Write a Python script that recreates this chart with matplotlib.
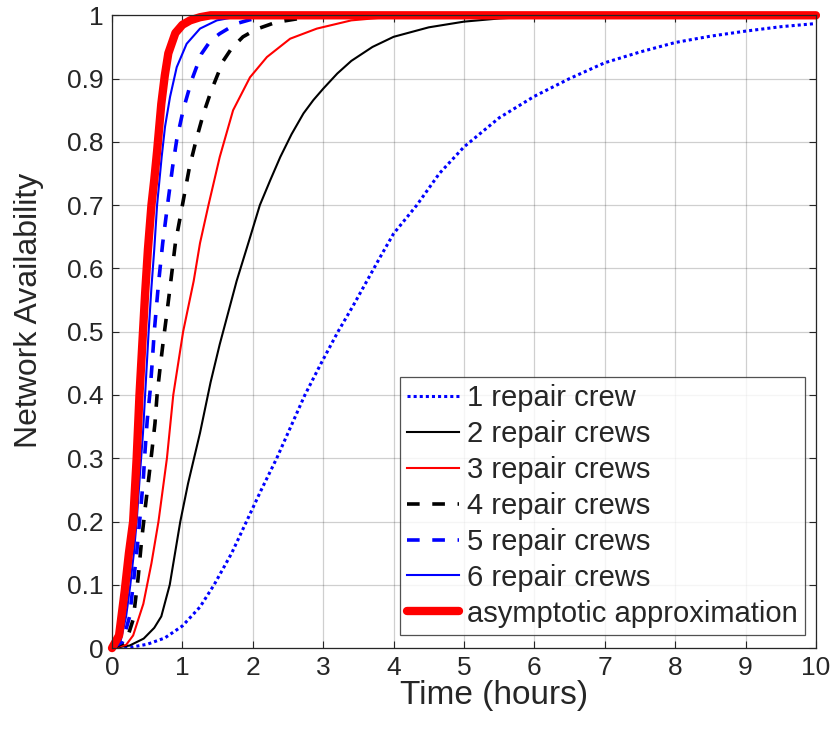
import matplotlib.pyplot as plt

plt.rcParams["font.family"] = ["Liberation Sans", "DejaVu Sans"]

TXT = "#262626"

# values (time in hours, availability)
t1 = [0, 0.3, 0.5, 0.75, 1.0, 1.25, 1.45, 1.7, 1.91, 2.12, 2.34, 2.54, 2.74,
      2.97, 3.21, 3.42, 3.62, 3.81, 4.0, 4.33, 4.65, 5.0, 5.5, 6.0, 6.5, 7.0,
      7.5, 8.0, 8.5, 9.0, 9.5, 10]
a1 = [0, 0.002, 0.006, 0.016, 0.035, 0.065, 0.1, 0.15, 0.2, 0.25, 0.3, 0.35,
      0.4, 0.45, 0.5, 0.54, 0.58, 0.618, 0.655, 0.7, 0.75, 0.792, 0.838, 0.872,
      0.9, 0.925, 0.942, 0.957, 0.967, 0.975, 0.982, 0.987]

t2 = [0, 0.25, 0.45, 0.6, 0.7, 0.82, 0.97, 1.08, 1.25, 1.4, 1.53, 1.65, 1.77,
      1.95, 2.1, 2.25, 2.39, 2.55, 2.72, 2.86, 3.0, 3.2, 3.4, 3.7, 4.0, 4.5,
      5.0, 5.5, 6.0, 7.0, 10]
a2 = [0, 0.004, 0.015, 0.032, 0.05, 0.1, 0.2, 0.26, 0.34, 0.42, 0.48, 0.53,
      0.58, 0.645, 0.7, 0.74, 0.776, 0.812, 0.845, 0.866, 0.884, 0.908, 0.928,
      0.95, 0.966, 0.981, 0.99, 0.995, 0.998, 1, 1]

t3 = [0, 0.2, 0.3, 0.445, 0.56, 0.66, 0.78, 0.87, 1.01, 1.16, 1.25, 1.37,
      1.53, 1.72, 1.96, 2.2, 2.53, 2.91, 3.4, 4.0, 5.0, 10]
a3 = [0, 0.005, 0.02, 0.07, 0.134, 0.2, 0.3, 0.4, 0.5, 0.58, 0.64, 0.7,
      0.776, 0.85, 0.902, 0.934, 0.963, 0.979, 0.992, 0.998, 1, 1]

t4 = [0, 0.2, 0.3, 0.37, 0.42, 0.47, 0.52, 0.565, 0.61, 0.64, 0.68, 0.73,
      0.78, 0.83, 0.9, 1.0, 1.1, 1.2, 1.3, 1.41, 1.5, 1.58, 1.7, 1.86, 2.05,
      2.33, 2.66, 3.0, 10]
a4 = [0, 0.01, 0.045, 0.11, 0.17, 0.22, 0.267, 0.31, 0.355, 0.4, 0.44, 0.487,
      0.53, 0.575, 0.64, 0.7, 0.76, 0.805, 0.845, 0.881, 0.906, 0.928, 0.948,
      0.966, 0.978, 0.989, 0.995, 1, 1]

t5 = [0, 0.15, 0.25, 0.3, 0.35, 0.4, 0.445, 0.47, 0.5, 0.54, 0.57, 0.6, 0.66,
      0.72, 0.8, 0.86, 0.919, 1.01, 1.13, 1.27, 1.4, 1.53, 1.77, 1.96, 2.3, 10]
a5 = [0, 0.01, 0.05, 0.1, 0.15, 0.21, 0.268, 0.313, 0.36, 0.405, 0.45, 0.5,
      0.576, 0.64, 0.71, 0.76, 0.803, 0.85, 0.897, 0.939, 0.96, 0.971, 0.987,
      0.993, 1, 1]

t6 = [0, 0.12, 0.2, 0.26, 0.31, 0.35, 0.4, 0.44, 0.48, 0.52, 0.56, 0.6, 0.64,
      0.705, 0.753, 0.824, 0.919, 1.06, 1.25, 1.49, 1.73, 2.0, 10]
a6 = [0, 0.01, 0.05, 0.1, 0.15, 0.2, 0.28, 0.34, 0.42, 0.5, 0.57, 0.63, 0.7,
      0.776, 0.824, 0.871, 0.918, 0.955, 0.979, 0.992, 0.997, 1, 1]

t7 = [0, 0.1, 0.18, 0.24, 0.3, 0.35, 0.39, 0.44, 0.47, 0.51, 0.56, 0.6, 0.64,
      0.7, 0.75, 0.8, 0.9, 1.0, 1.11, 1.25, 1.4, 10]
a7 = [0, 0.02, 0.09, 0.15, 0.2, 0.3, 0.4, 0.5, 0.56, 0.63, 0.7, 0.74, 0.785,
      0.86, 0.905, 0.94, 0.972, 0.985, 0.992, 0.997, 1, 1]

labels = ["1 repair crew", "2 repair crews", "3 repair crews", "4 repair crews",
          "5 repair crews", "6 repair crews", "asymptotic approximation"]

fig = plt.figure(figsize=(8.36, 7.29), dpi=100)
ax = fig.add_axes([0.134, 0.111, 0.842, 0.868])

ax.plot(t1, a1, color="#0000ff", ls=(0, (1, 1)), lw=2.2, label=labels[0])
ax.plot(t2, a2, color="black", lw=1.5, label=labels[1])
ax.plot(t3, a3, color="#ff0000", lw=1.5, label=labels[2])
ax.plot(t4, a4, color="black", ls=(0, (3.5, 3.5)), lw=2.6, label=labels[3])
ax.plot(t5, a5, color="#0000ff", ls=(0, (3.5, 3.5)), lw=2.6, label=labels[4])
ax.plot(t6, a6, color="#0000ff", lw=1.5, label=labels[5])
ax.plot(t7, a7, color="#ff0000", lw=6, solid_capstyle="round",
        solid_joinstyle="round", clip_on=False, label=labels[6])

ax.set_xlim(0, 10)
ax.set_ylim(0, 1)
ax.set_xticks(range(0, 11))
ax.set_yticks([i / 10 for i in range(11)])
ax.set_yticklabels(["0", "0.1", "0.2", "0.3", "0.4", "0.5", "0.6", "0.7",
                    "0.8", "0.9", "1"])
ax.tick_params(direction="in", length=5, labelsize=19, colors=TXT,
               top=True, right=True, pad=6)
for s in ax.spines.values():
    s.set_color(TXT)
    s.set_linewidth(0.9)
ax.grid(True, color="#262626", alpha=0.22, lw=0.9)
ax.set_axisbelow(True)

ax.set_xlabel("Time (hours)", fontsize=24, color=TXT)
ax.xaxis.set_label_coords(0.543, -0.05)
ax.set_ylabel("Network Availability", fontsize=23, color=TXT)
ax.yaxis.set_label_coords(-0.097, 0.534)

leg = ax.legend(loc="lower right", bbox_to_anchor=(0.984, 0.021), fontsize=21,
                frameon=True, fancybox=False, edgecolor=TXT, handlelength=1.8,
                handletextpad=0.25, borderpad=0.25, labelspacing=0.27,
                borderaxespad=0)
leg.get_frame().set_linewidth(0.9)
for txt in leg.get_texts():
    txt.set_color(TXT)

fig.savefig("out.png", dpi=100)
